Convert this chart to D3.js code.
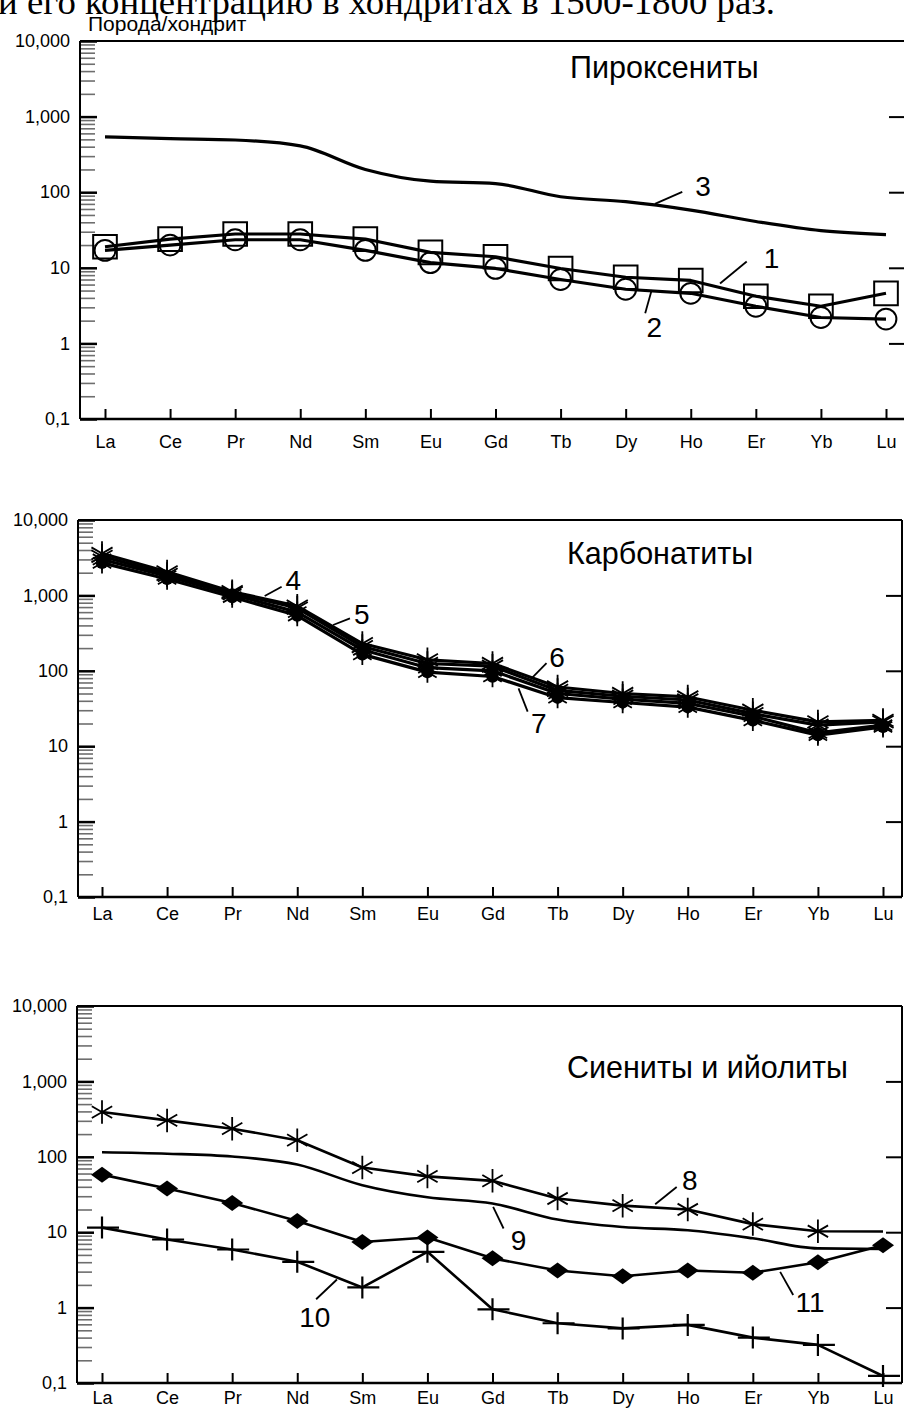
<!DOCTYPE html>
<html>
<head>
<meta charset="utf-8">
<script src="https://cdn.jsdelivr.net/npm/d3@7"></script>
<style>
  body { margin: 0; background: #fff; }
  svg { display: block; font-family: "Liberation Sans", Arial, sans-serif; }
</style>
</head>
<body>
<svg id="chart" width="904" height="1408"></svg>
<script>
// REE, chondrite-normalised
var elements = ["La", "Ce", "Pr", "Nd", "Sm", "Eu", "Gd", "Tb", "Dy", "Ho", "Er", "Yb", "Lu"];
var yTickValues = [0.1, 1, 10, 100, 1000, 10000];
var yTickLabels = ["0,1", "1", "10", "100", "1,000", "10,000"];
var rightTickValues = [1, 10, 100, 1000];

// Пироксениты
var pyroxenite1 = [19, 24, 28, 28, 24, 16, 14, 9.8, 7.5, 6.8, 4.2, 3.1, 4.6];
var pyroxenite2 = [17, 20, 23.5, 23.5, 17, 11.7, 9.8, 7.0, 5.2, 4.6, 3.1, 2.2, 2.1];
var pyroxenite3 = [540, 510, 490, 410, 200, 140, 130, 87, 75, 58, 41, 31, 27.5];

// Карбонатиты
var carbonatite4 = [3600, 2050, 1120, 720, 230, 140, 125, 61, 50, 45, 30, 21, 22];
var carbonatite5 = [3000, 1800, 1030, 600, 190, 110, 100, 50, 42, 37, 25, 15, 19];
var carbonatite6 = [3300, 1900, 1080, 680, 210, 125, 115, 55, 46, 41, 27, 19, 21];
var carbonatite7 = [2700, 1650, 950, 540, 165, 96, 84, 44, 38, 33, 22, 14, 18];

// Сиениты и ийолиты
var syenite8 = [392, 304, 236, 166, 72, 55, 48, 28, 22.5, 20, 12.8, 10.3, 10.2];
var syenite9 = [115, 110, 101, 79, 42, 29, 24, 14.7, 11.7, 10.6, 8.3, 6.1, 6.0];
var syenite10 = [11.5, 8.0, 5.9, 4.05, 1.85, 5.5, 0.95, 0.62, 0.53, 0.59, 0.40, 0.32, 0.124];
var syenite11 = [58, 38, 24.4, 14.1, 7.4, 8.5, 4.5, 3.1, 2.6, 3.1, 2.9, 4.0, 6.7];

var svg = d3.select("#chart");

// marker shapes
var sym = {
  square: d3.symbol().type(d3.symbolSquare).size(560)(),
  circle: d3.symbol().type(d3.symbolCircle).size(340)(),
  star: d3.symbol().type(d3.symbolAsterisk).size(420)(),
  starSmall: d3.symbol().type(d3.symbolAsterisk).size(320)(),
  star3: d3.symbol().type(d3.symbolAsterisk).size(390)(),
  dot: d3.symbol().type(d3.symbolCircle).size(120)(),
  diamond: "M-11,0L0,-8L11,0L0,8Z",
  cross: "M-15,0L17,0M0,-11L0,11"
};

function drawMarker(g, type, px, py) {
  var t = "translate(" + px + "," + py + ")";
  if (type == "square" || type == "circle") {
    g.append("path").attr("d", sym[type]).attr("transform", t)
      .attr("fill", "none").attr("stroke", "#000").attr("stroke-width", 2);
  } else if (type == "star" || type == "star3") {
    g.append("path").attr("d", sym[type]).attr("transform", t)
      .attr("fill", "none").attr("stroke", "#000").attr("stroke-width", 1.8);
  } else if (type == "dotstar") {
    g.append("path").attr("d", sym.dot).attr("transform", t).attr("fill", "#000");
    g.append("path").attr("d", sym.starSmall).attr("transform", t)
      .attr("fill", "none").attr("stroke", "#000").attr("stroke-width", 1.8);
  } else if (type == "diamond") {
    g.append("path").attr("d", sym.diamond).attr("transform", t).attr("fill", "#000");
  } else if (type == "cross") {
    g.append("path").attr("d", sym.cross).attr("transform", t)
      .attr("fill", "none").attr("stroke", "#000").attr("stroke-width", 2.2);
  }
}

var panels = [
  {
    left: 80, right: 905, top: 41, bottom: 419, xFirst: 105, xLast: 886, labelPad: 16,
    title: "Пироксениты", titleX: 570, titleY: 78, lineWidth: 3.2,
    series: [
      { values: pyroxenite3, marker: null, smooth: true },
      { values: pyroxenite1, marker: "square" },
      { values: pyroxenite2, marker: "circle" }
    ],
    notes: [
      { text: "3", at: [9.19, 121], from: [8.45, 70], to: [8.87, 101] },
      { text: "1", at: [10.24, 13.4], from: [9.45, 6.2], to: [9.86, 12.1] },
      { text: "2", at: [8.44, 1.66], from: [8.40, 5.1], to: [8.30, 2.5] }
    ]
  },
  {
    left: 78, right: 902, top: 520, bottom: 897, xFirst: 102, xLast: 883, labelPad: 10,
    title: "Карбонатиты", titleX: 567, titleY: 564, lineWidth: 3.2,
    series: [
      { values: carbonatite4, marker: "star" },
      { values: carbonatite6, marker: "star" },
      { values: carbonatite5, marker: "dotstar" },
      { values: carbonatite7, marker: "dotstar" }
    ],
    notes: [
      { text: "4", at: [2.94, 1600], from: [2.50, 982], to: [2.76, 1300] },
      { text: "5", at: [3.99, 566], from: [3.55, 405], to: [3.81, 497] },
      { text: "6", at: [6.99, 154], from: [6.60, 79.4], to: [6.83, 126] },
      { text: "7", at: [6.71, 20.3], from: [6.40, 58.6], to: [6.54, 28.7] }
    ]
  },
  {
    left: 77, right: 902, top: 1006, bottom: 1383, xFirst: 102, xLast: 883, labelPad: 8,
    title: "Сиениты и ийолиты", titleX: 567, titleY: 1078, lineWidth: 2.6,
    series: [
      { values: syenite8, marker: "star3", skipLast: true },
      { values: syenite9, marker: null, smooth: true },
      { values: syenite11, marker: "diamond" },
      { values: syenite10, marker: "cross" }
    ],
    notes: [
      { text: "8", at: [9.03, 48.9], from: [8.50, 23.5], to: [8.83, 39.8] },
      { text: "9", at: [6.40, 7.8], from: [6.01, 21.6], to: [6.17, 11.2] },
      { text: "11", at: [10.88, 1.19], from: [10.42, 2.98], to: [10.62, 1.47] },
      { text: "10", at: [3.27, 0.755], from: [3.61, 2.36], to: [3.29, 1.29] }
    ]
  }
];

function drawPanel(p) {
  var g = svg.append("g");
  var x = d3.scalePoint().domain(elements).range([p.xFirst, p.xLast]);
  var xi = d3.scaleLinear().domain([0, elements.length - 1]).range([p.xFirst, p.xLast]);
  var y = d3.scaleLog().domain([0.1, 10000]).range([p.bottom, p.top]);

  var minor = y.ticks().filter(function(d) { return yTickValues.indexOf(d) < 0; });

  // minor ticks, left
  g.append("g")
      .attr("transform", "translate(" + p.left + ",0)")
      .call(d3.axisLeft(y).tickValues(minor).tickSize(-15).tickFormat(""))
      .call(function(a) { a.select(".domain").remove(); })
      .selectAll("line").attr("stroke", "#6e6e6e").attr("stroke-width", 1.6);

  // major ticks + labels, left
  var yAxis = g.append("g")
      .attr("transform", "translate(" + p.left + ",0)")
      .call(d3.axisLeft(y).tickValues(yTickValues).tickSize(-17).tickPadding(10)
        .tickFormat(function(d, i) { return yTickLabels[i]; }));
  yAxis.select(".domain").remove();
  yAxis.selectAll("line").attr("stroke", "#000").attr("stroke-width", 2.5);
  yAxis.selectAll("text").attr("font-size", 18).attr("fill", "#000")
      .attr("font-family", "Liberation Sans, Arial, sans-serif");

  // short ticks, right
  g.append("g")
      .attr("transform", "translate(" + p.right + ",0)")
      .call(d3.axisRight(y).tickValues(rightTickValues).tickSize(-16).tickFormat(""))
      .call(function(a) { a.select(".domain").remove(); })
      .selectAll("line").attr("stroke", "#000").attr("stroke-width", 2);

  // x ticks
  var xAxis = g.append("g")
      .attr("transform", "translate(0," + p.bottom + ")")
      .call(d3.axisBottom(x).tickSize(-10).tickPadding(p.labelPad));
  xAxis.select(".domain").remove();
  xAxis.selectAll("line").attr("stroke", "#000").attr("stroke-width", 2);
  xAxis.selectAll("text").attr("font-size", 18).attr("fill", "#000")
      .attr("font-family", "Liberation Sans, Arial, sans-serif");

  // frame
  var frame = g.append("g").attr("stroke", "#000").attr("stroke-width", 2);
  frame.append("line").attr("x1", p.left).attr("x2", p.right).attr("y1", p.top).attr("y2", p.top);
  frame.append("line").attr("x1", p.left).attr("x2", p.right).attr("y1", p.bottom).attr("y2", p.bottom)
      .attr("stroke-width", 2.5);
  frame.append("line").attr("x1", p.left).attr("x2", p.left).attr("y1", p.top).attr("y2", p.bottom);
  frame.append("line").attr("x1", p.right).attr("x2", p.right).attr("y1", p.top).attr("y2", p.bottom);

  // series
  p.series.forEach(function(s) {
    var line = d3.line()
        .x(function(d, i) { return x(elements[i]); })
        .y(function(d) { return y(d); })
        .curve(s.smooth ? d3.curveMonotoneX : d3.curveLinear);
    g.append("path")
        .datum(s.values)
        .attr("d", line)
        .attr("fill", "none")
        .attr("stroke", "#000")
        .attr("stroke-width", p.lineWidth)
        .attr("stroke-linejoin", "round");
    if (s.marker) {
      var mg = g.append("g");
      s.values.forEach(function(v, i) {
        if (s.skipLast && i == s.values.length - 1) return;
        drawMarker(mg, s.marker, x(elements[i]), y(v));
      });
    }
  });

  // title
  g.append("text")
      .attr("x", p.titleX).attr("y", p.titleY)
      .attr("font-size", 30.5)
      .text(p.title);

  // number labels with leader lines
  p.notes.forEach(function(n) {
    g.append("line")
        .attr("x1", xi(n.from[0])).attr("y1", y(n.from[1]))
        .attr("x2", xi(n.to[0])).attr("y2", y(n.to[1]))
        .attr("stroke", "#000").attr("stroke-width", 1.8);
    g.append("text")
        .attr("x", xi(n.at[0])).attr("y", y(n.at[1]))
        .attr("dy", "0.36em")
        .attr("text-anchor", "middle")
        .attr("font-size", 28)
        .text(n.text);
  });
}

panels.forEach(drawPanel);

// cropped line of the page text above the figure
svg.append("text")
    .attr("x", -2).attr("y", 14)
    .attr("font-family", "Liberation Serif, Times New Roman, serif")
    .attr("font-size", 36)
    .attr("textLength", 777)
    .attr("lengthAdjust", "spacingAndGlyphs")
    .text("и его концентрацию в хондритах в 1500-1800 раз.");

svg.append("text")
    .attr("x", 88).attr("y", 31)
    .attr("font-size", 21)
    .text("Порода/хондрит");
</script>
</body>
</html>
